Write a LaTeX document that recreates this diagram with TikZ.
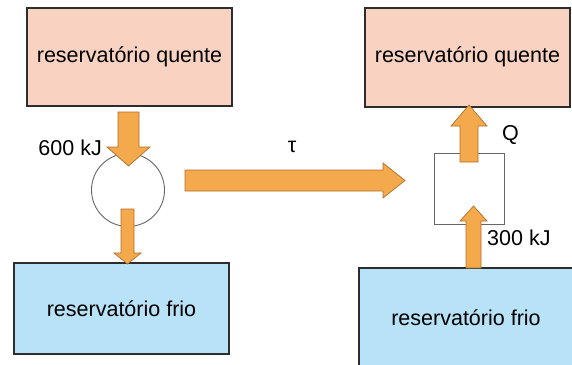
\documentclass[tikz,border=0pt]{standalone}
\usepackage{fontspec}
\setmainfont{Liberation Sans}
\definecolor{hotfill}{RGB}{249,210,193}
\definecolor{coldfill}{RGB}{184,226,247}
\definecolor{flowfill}{RGB}{244,169,76}
\definecolor{flowedge}{RGB}{176,112,40}
\definecolor{boxedge}{RGB}{45,45,45}
\begin{document}
\begin{tikzpicture}[x=1pt,y=-1pt,
  reservoir/.style={draw=boxedge,line width=1.2pt},
  hot/.style={reservoir,fill=hotfill},
  cold/.style={reservoir,fill=coldfill},
  machine/.style={draw=black!60,line width=0.9pt},
  flow/.style={fill=flowfill,draw=flowedge,line width=0.7pt,line join=miter},
  lbl/.style={font=\fontsize{21.5}{25}\selectfont,inner sep=0pt}]
\useasboundingbox (0,0) rectangle (572,364);
\fill[white] (0,0) rectangle (572,364);

% engine side
\draw[hot]  (27,8)    rectangle (232,106);
\draw[cold] (14,263)  rectangle (229,354);
\node[lbl] (hotA)  at (129.5,57)  {reservatório quente};
\node[lbl] (coldA) at (121.5,309) {reservatório frio};
\draw[machine] (128,190) circle (36.5);
\node[coordinate] (engine) at (128,190) {};

% heat in from the hot reservoir
\draw[flow] (118,112) -- (139,112) -- (139,147) -- (150,147) -- (128.5,166)
  -- (107,147) -- (118,147) -- cycle;
% heat rejected to the cold reservoir
\draw[flow] (121,209) -- (134,209) -- (134,253) -- (141,253) -- (127.5,264)
  -- (114,253) -- (121,253) -- cycle;
\node[lbl,anchor=east] (qin) at (102,148) {600 kJ};

% work delivered to the refrigerator
\draw[flow] (185,170) -- (383,170) -- (383,163) -- (405,180.5) -- (383,198)
  -- (383,191) -- (185,191) -- cycle;
\node[lbl] (work) at (292,147) {τ};

% refrigerator side
\draw[hot]  (365,8)   rectangle (570,107);
\draw[cold] (359,268) rectangle (575,370);
\node[lbl] (hotB)  at (467.5,57)  {reservatório quente};
\node[lbl] (coldB) at (466,318)   {reservatório frio};
\draw[machine] (434,153) rectangle (504,224);

% heat delivered to the hot reservoir
\draw[flow] (460,162) -- (478,162) -- (478,126) -- (487,126) -- (469,105)
  -- (451,126) -- (460,126) -- cycle;
\node[lbl] (qout) at (510.5,135) {Q};
% heat drawn from the cold reservoir
\draw[flow] (466,268) -- (481,268) -- (481,221) -- (487,221) -- (473.5,206)
  -- (460,221) -- (466,221) -- cycle;
\node[lbl,anchor=west] (qcold) at (487,238) {300 kJ};
\end{tikzpicture}
\end{document}
